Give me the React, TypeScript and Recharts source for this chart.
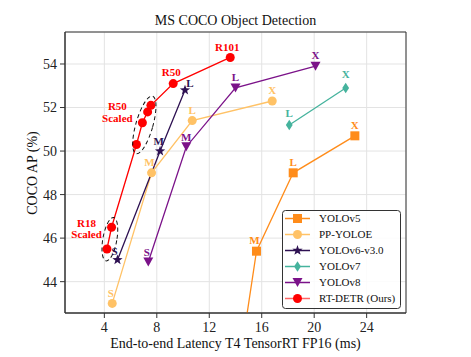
import React from 'react';
import { ComposedChart, Line, Scatter, XAxis, YAxis, CartesianGrid, LabelList, ReferenceArea } from 'recharts';

// ---------- data ----------
const yolov5Latency = [13.6, 15.6, 18.4, 23.1];
const yolov5AP = [37.4, 45.4, 49.0, 50.7];
const yolov5Labels = ['', 'M', 'L', 'X'];

const ppyoloeLatency = [4.6, 7.6, 10.7, 16.8];
const ppyoloeAP = [43.0, 49.0, 51.4, 52.3];
const ppyoloeLabels = ['S', 'M', 'L', 'X'];

const yolov6Latency = [5.0, 8.25, 10.15];
const yolov6AP = [45.0, 50.0, 52.8];
const yolov6Labels = ['S', 'M', 'L'];

const yolov7Latency = [18.1, 22.4];
const yolov7AP = [51.2, 52.9];
const yolov7Labels = ['L', 'X'];

const yolov8Latency = [7.35, 10.25, 14.0, 20.1];
const yolov8AP = [44.9, 50.2, 52.9, 53.9];
const yolov8Labels = ['S', 'M', 'L', 'X'];

const rtdetrLatency = [4.2, 4.55, 6.45, 6.9, 7.3, 7.55, 9.25, 13.6];
const rtdetrAP = [45.5, 46.5, 50.3, 51.3, 51.8, 52.1, 53.1, 54.3];
const rtdetrLabels = ['', 'R18\nScaled', '', 'R50\nScaled', '', '', 'R50', 'R101'];

const groupEllipseCenters = [
  { x: 4.42, y: 45.95 },
  { x: 7.05, y: 51.2 },
];

const xTicks = [4, 8, 12, 16, 20, 24];
const yTicks = [44, 46, 48, 50, 52, 54];
const xDomain = [1, 27];
const yDomain = [42.56, 55.47];

const title = 'MS COCO Object Detection';
const xTitle = 'End-to-end Latency T4 TensorRT FP16 (ms)';
const yTitle = 'COCO AP (%)';

// ---------- styles ----------
const FONT = '"Liberation Serif", "DejaVu Serif", serif';
const W = 471;
const H = 357;

// label offsets (px) of the label's text centre relative to its marker
const yolov5Off = [[0, -11], [-2, -11], [0, -11], [0, -10.5]];
const ppyoloeOff = [[-1.5, -10.6], [-2, -10.4], [0, -10.7], [0, -10.3]];
const yolov6Off = [[-3, -8.5], [-1.5, -10], [5, -7]];
const yolov7Off = [[0, -12], [0, -13.5]];
const yolov8Off = [[-1.5, -10], [0, -9.5], [0, -11], [0, -10.7]];
const rtdetrOff = [[0, 0], [-25, -4.3], [0, 0], [-25, -16.2], [0, 0], [0, 0], [-2, -11], [-3, -10.5]];

type MarkerKind = 'square' | 'circle' | 'star' | 'diamond' | 'tri';

const build = (xs: number[], ys: number[], labels: string[]) =>
  xs.map((x, i) => ({ x, y: ys[i], label: labels[i] }));

const series = [
  { name: 'YOLOv5', color: '#ff8c1a', marker: 'square' as MarkerKind, data: build(yolov5Latency, yolov5AP, yolov5Labels), off: yolov5Off },
  { name: 'PP-YOLOE', color: '#ffc266', marker: 'circle' as MarkerKind, data: build(ppyoloeLatency, ppyoloeAP, ppyoloeLabels), off: ppyoloeOff },
  { name: 'YOLOv6-v3.0', color: '#2e1152', marker: 'star' as MarkerKind, data: build(yolov6Latency, yolov6AP, yolov6Labels), off: yolov6Off },
  { name: 'YOLOv7', color: '#45b39d', marker: 'diamond' as MarkerKind, data: build(yolov7Latency, yolov7AP, yolov7Labels), off: yolov7Off },
  { name: 'YOLOv8', color: '#7b1289', marker: 'tri' as MarkerKind, data: build(yolov8Latency, yolov8AP, yolov8Labels), off: yolov8Off },
  { name: 'RT-DETR (Ours)', color: '#ff0000', marker: 'circle' as MarkerKind, data: build(rtdetrLatency, rtdetrAP, rtdetrLabels), off: rtdetrOff },
];

function Marker({ kind, cx, cy, color }: { kind: MarkerKind; cx: number; cy: number; color: string }) {
  if (cx == null || cy == null || isNaN(cx) || isNaN(cy)) return null;
  switch (kind) {
    case 'square':
      return <rect x={cx - 4.5} y={cy - 4.5} width={9} height={9} fill={color} />;
    case 'circle':
      return <circle cx={cx} cy={cy} r={4.5} fill={color} />;
    case 'star': {
      const pts: string[] = [];
      for (let i = 0; i < 10; i++) {
        const r = i % 2 === 0 ? 5.4 : 2.2;
        const a = -Math.PI / 2 + (i * Math.PI) / 5;
        pts.push(`${cx + r * Math.cos(a)},${cy + r * Math.sin(a)}`);
      }
      return <polygon points={pts.join(' ')} fill={color} />;
    }
    case 'diamond':
      return <polygon points={`${cx},${cy - 5.2} ${cx + 3.4},${cy} ${cx},${cy + 5.2} ${cx - 3.4},${cy}`} fill={color} />;
    case 'tri':
      return <polygon points={`${cx - 5},${cy - 4.5} ${cx + 5},${cy - 4.5} ${cx},${cy + 4.5}`} fill={color} />;
  }
  return null;
}

function makeLabel(color: string, off: number[][]) {
  return (props: any) => {
    const { x, y, value, index } = props;
    if (!value) return null;
    const o = off[index] || [0, -11];
    const lines = String(value).split('\n');
    return (
      <text
        x={x + o[0]}
        y={y + o[1] + 3.8}
        textAnchor="middle"
        fill={color}
        fontFamily={FONT}
        fontSize={11}
        fontWeight="bold"
      >
        {lines.map((l, i) => (
          <tspan key={i} x={x + o[0]} dy={i === 0 ? 0 : 11.5}>
            {l}
          </tspan>
        ))}
      </text>
    );
  };
}

const ellipseShapes = [
  { rx: 7, ry: 22, rot: 10 },
  { rx: 8.5, ry: 30, rot: 16 },
];

function EllipseShape(props: any) {
  const { cx, cy, index } = props;
  const e = ellipseShapes[index] || ellipseShapes[0];
  return (
    <ellipse
      cx={cx}
      cy={cy}
      rx={e.rx}
      ry={e.ry}
      transform={`rotate(${e.rot} ${cx} ${cy})`}
      fill="none"
      stroke="#111"
      strokeWidth={1}
      strokeDasharray="4 3"
    />
  );
}

function LegendBox() {
  const left = 282;
  const top = 210;
  const w = 118;
  const h = 98;
  return (
    <g>
      <rect x={left + 0.5} y={top + 0.5} width={w} height={h} rx={3} fill="#ffffff" fillOpacity={0.85} stroke="#333" strokeWidth={1} />
      {series.map((s, i) => {
        const cy = top + 8.5 + i * 16;
        return (
          <g key={s.name}>
            <line x1={left + 3} x2={left + 28} y1={cy} y2={cy} stroke={s.color} strokeWidth={1.5} strokeOpacity={s.name.startsWith('RT') ? 0.6 : 1} />
            <Marker kind={s.marker} cx={left + 15.5} cy={cy} color={s.color} />
            <text x={left + 37} y={cy + 3.8} fontFamily={FONT} fontSize={11} fill="#111">
              {s.name}
            </text>
          </g>
        );
      })}
    </g>
  );
}

export default function App() {
  return (
    <div style={{ position: 'absolute', left: 0, top: 0, width: W, height: H, background: '#fff' }}>
      <ComposedChart width={W} height={H} margin={{ top: 32, right: 65, left: 0, bottom: 0 }}>
        <CartesianGrid stroke="#e3e3e3" strokeWidth={1} />
        <XAxis
          type="number"
          dataKey="x"
          domain={xDomain}
          ticks={xTicks}
          allowDataOverflow
          height={44}
          tickSize={5}
          tickMargin={4}
          axisLine={{ stroke: '#333' }}
          tickLine={{ stroke: '#333' }}
          tick={{ fontSize: 14, fill: '#222', fontFamily: FONT }}
        />
        <YAxis
          type="number"
          dataKey="y"
          domain={yDomain}
          ticks={yTicks}
          allowDataOverflow
          width={65}
          tickSize={5}
          tickMargin={3}
          axisLine={{ stroke: '#333' }}
          tickLine={{ stroke: '#333' }}
          tick={{ fontSize: 14, fill: '#222', fontFamily: FONT }}
        />
        <ReferenceArea x1={xDomain[0]} x2={xDomain[1]} y1={yDomain[0]} y2={yDomain[1]} fill="none" stroke="#333" strokeWidth={1} />
        {series.map((s) => (
          <Line
            key={s.name}
            data={s.data}
            dataKey="y"
            name={s.name}
            type="linear"
            stroke={s.color}
            strokeWidth={1.3}
            isAnimationActive={false}
            dot={(p: any) => <Marker key={`${s.name}-${p.index}`} kind={s.marker} cx={p.cx} cy={p.cy} color={s.color} />}
            activeDot={false}
          >
            <LabelList dataKey="label" content={makeLabel(s.color, s.off)} />
          </Line>
        ))}
        <Scatter data={groupEllipseCenters} dataKey="y" isAnimationActive={false} shape={<EllipseShape />} />
      </ComposedChart>
      <svg width={W} height={H} style={{ position: 'absolute', left: 0, top: 0, pointerEvents: 'none' }}>
        <text x={235.5} y={25} textAnchor="middle" fontFamily={FONT} fontSize={14} fill="#111">
          {title}
        </text>
        <text x={235.5} y={347.5} textAnchor="middle" fontFamily={FONT} fontSize={14} fill="#111">
          {xTitle}
        </text>
        <text
          x={32}
          y={173}
          textAnchor="middle"
          dominantBaseline="central"
          transform="rotate(-90 32 173)"
          fontFamily={FONT}
          fontSize={14}
          fill="#111"
        >
          {yTitle}
        </text>
        <LegendBox />
      </svg>
    </div>
  );
}
